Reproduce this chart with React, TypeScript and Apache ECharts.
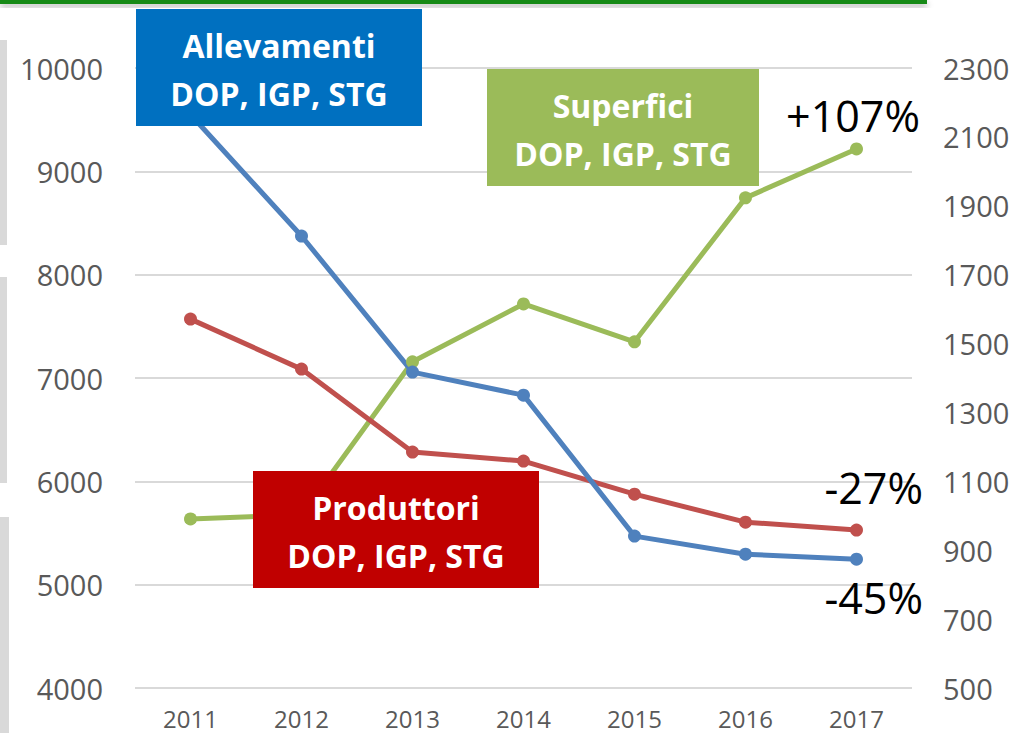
import React, { useEffect, useRef } from "react";
import * as echarts from "echarts";

const years = ["2011", "2012", "2013", "2014", "2015", "2016", "2017"];
const allevamenti = [9550, 8374, 7057, 6834, 5470, 5295, 5247];
const produttori = [7570, 7086, 6283, 6196, 5876, 5605, 5528];
const superfici = [991, 1003, 1447, 1615, 1505, 1923, 2065];
const rightTicks = [500, 700, 900, 1100, 1300, 1500, 1700, 1900, 2100, 2300];

const BLUE = "#4F81BD";
const RED = "#C0504D";
const GREEN = "#9BBB59";
const FONT = "'Open Sans', 'Noto Sans', sans-serif";

function box(x: number, y: number, w: number, h: number, fill: string, line1: string, line2: string) {
  return {
    type: "group",
    z: 100,
    children: [
      { type: "rect", z: 100, shape: { x, y, width: w, height: h }, style: { fill } },
      {
        type: "text",
        z: 101,
        x: x + w / 2,
        y: y + h * 0.31,
        style: { text: line1, fill: "#fff", font: `bold 32px ${FONT}`, align: "center", verticalAlign: "middle" },
      },
      {
        type: "text",
        z: 101,
        x: x + w / 2,
        y: y + h * 0.72,
        style: { text: line2, fill: "#fff", font: `bold 32px ${FONT}`, align: "center", verticalAlign: "middle" },
      },
    ],
  };
}

function pct(x: number, y: number, text: string) {
  return {
    type: "text",
    z: 100,
    x,
    y,
    style: { text, fill: "#000", font: `43px ${FONT}`, align: "right", verticalAlign: "middle" },
  };
}

export default function App() {
  const ref = useRef<HTMLDivElement>(null);
  useEffect(() => {
    document.body.style.margin = "0";
    const chart = echarts.init(ref.current!, null, { renderer: "svg" });
    const lineSeries = (name: string, data: number[], color: string, yAxisIndex: number) => ({
      name,
      type: "line",
      data,
      yAxisIndex,
      symbol: "circle",
      symbolSize: 13,
      lineStyle: { color, width: 5 },
      itemStyle: { color },
      z: 3,
    });
    const plain = (v: number) => String(v);
    chart.setOption({
      animation: false,
      backgroundColor: "#fff",
      grid: { left: 135, right: 115, top: 68, bottom: 45, containLabel: false },
      xAxis: {
        type: "category",
        data: years,
        boundaryGap: true,
        axisLine: { show: false },
        axisTick: { show: false },
        axisLabel: { color: "#595959", fontSize: 24, fontFamily: FONT, margin: 18 },
      },
      yAxis: [
        {
          type: "value",
          min: 4000,
          max: 10000,
          interval: 1000,
          position: "left",
          axisLine: { show: false },
          axisTick: { show: false },
          axisLabel: { color: "#595959", fontSize: 29, fontFamily: FONT, margin: 32, formatter: plain },
          splitLine: { lineStyle: { color: "#d9d9d9", width: 2 } },
        },
        {
          type: "value",
          min: 500,
          max: 2300,
          position: "right",
          axisLine: { show: false },
          axisTick: { show: false },
          axisLabel: {
            color: "#595959",
            fontSize: 29,
            fontFamily: FONT,
            margin: 31,
            customValues: rightTicks,
            formatter: plain,
          },
          splitLine: { show: false },
        },
      ],
      series: [
        lineSeries("Superfici", superfici, GREEN, 1),
        lineSeries("Produttori", produttori, RED, 0),
        lineSeries("Allevamenti", allevamenti, BLUE, 0),
      ],
      graphic: [
        {
          type: "rect",
          z: 100,
          shape: { x: 0, y: 0, width: 927, height: 4 },
          style: { fill: "#178a17", shadowBlur: 6, shadowColor: "rgba(0,0,0,0.35)", shadowOffsetY: 3 },
        },
        { type: "rect", z: 100, shape: { x: 0, y: 40, width: 7, height: 205 }, style: { fill: "#d9d9d9" } },
        { type: "rect", z: 100, shape: { x: 0, y: 277, width: 7, height: 206 }, style: { fill: "#d9d9d9" } },
        { type: "rect", z: 100, shape: { x: 0, y: 517, width: 9, height: 216 }, style: { fill: "#d9d9d9" } },
        box(136, 9, 286, 117, "#0070C0", "Allevamenti", "DOP, IGP, STG"),
        box(487, 69, 272, 117, GREEN, "Superfici", "DOP, IGP, STG"),
        box(253, 471, 286, 117, "#C00000", "Produttori", "DOP, IGP, STG"),
        pct(920, 115, "+107%"),
        pct(923, 487, "-27%"),
        pct(923, 597, "-45%"),
      ],
    });
    return () => chart.dispose();
  }, []);
  return <div ref={ref} style={{ width: 1027, height: 733 }} />;
}
